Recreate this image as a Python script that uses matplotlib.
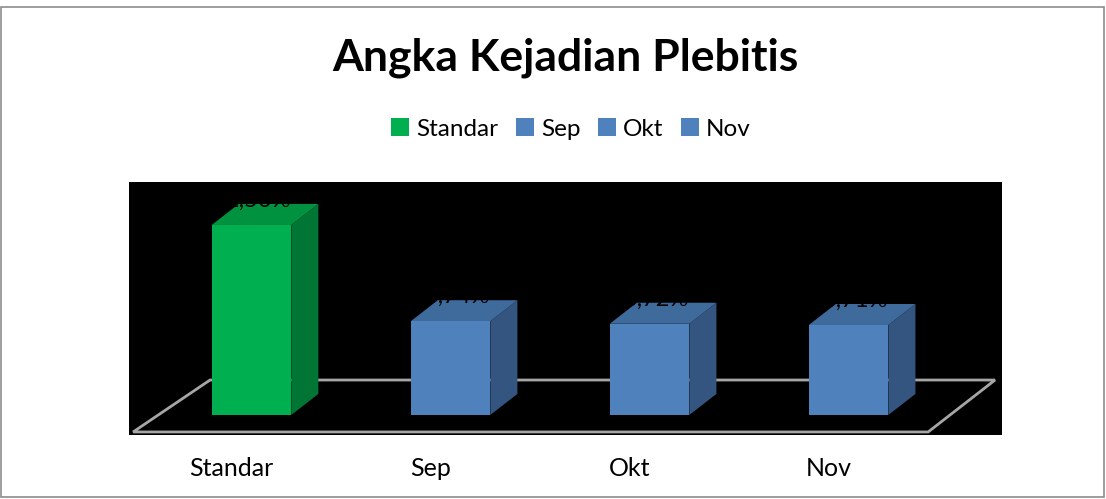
import numpy as np
import matplotlib
matplotlib.use("Agg")
import matplotlib.pyplot as plt
from matplotlib.patches import Polygon, Patch, Rectangle

categories = ["Standar", "Sep", "Okt", "Nov"]
values = [1.50, 0.74, 0.72, 0.71]
labels = ["1,50%", "0,74%", "0,72%", "0,71%"]

front_cols = ["#00B050", "#4F81BD", "#4F81BD", "#4F81BD"]
side_cols = ["#007534", "#34557F", "#34557F", "#34557F"]
top_cols = ["#00923F", "#3E6A9C", "#3E6A9C", "#3E6A9C"]

plt.rcParams['font.family'] = ['Lato', 'DejaVu Sans']

W, H = 1106, 499
fig = plt.figure(figsize=(W / 100, H / 100), dpi=100)
fig.patch.set_facecolor("white")
fig.patches.append(Rectangle((1 / W, 2 / H), 1 - 3 / W, 1 - 9 / H, transform=fig.transFigure,
                             fill=False, edgecolor="#8C8C8C", lw=1.2))

ax = fig.add_axes([129 / W, (H - 435) / H, (1002 - 129) / W, (435 - 182) / H])
ax.set_facecolor("black")
ax.set_xlim(-0.6156, 3.771)
ax.set_ylim(-0.158, 1.839)

width = 0.40
dx, dy = 0.136, 0.166
x = np.arange(len(categories))

# floor
floor = Polygon([(-0.595, -0.134), (3.40, -0.134), (3.736, 0.276), (-0.2085, 0.276)],
                closed=True, fill=False, edgecolor="#A6A6A6", lw=2, zorder=1)
ax.add_patch(floor)

for i, v in enumerate(values):
    x0 = x[i] - width / 2
    x1 = x[i] + width / 2
    ax.add_patch(Polygon([(x1, 0), (x1 + dx, dy), (x1 + dx, v + dy), (x1, v)],
                         closed=True, facecolor=side_cols[i], edgecolor="none", zorder=2))
    ax.add_patch(Polygon([(x0, v), (x1, v), (x1 + dx, v + dy), (x0 + dx, v + dy)],
                         closed=True, facecolor=top_cols[i], edgecolor="none", zorder=2))
    ax.text(x[i] + 0.03, v + dy + 0.03, labels[i], ha="center", va="center",
            fontsize=17, color="black", zorder=4)

ax.bar(x, values, width=width, color=front_cols, zorder=3)

ax.set_xticks(x - 0.1)
ax.set_xticklabels(categories, fontsize=18)
ax.tick_params(axis="x", length=0, pad=16)
ax.set_yticks([])
for s in ax.spines.values():
    s.set_visible(False)

fig.text(565 / W, 1 - 58 / H, "Angka Kejadian Plebitis", ha="center", va="center",
         fontsize=32, fontweight="bold")

handles = [Patch(facecolor=c) for c in front_cols]
fig.legend(handles, categories, loc="center", bbox_to_anchor=(571 / W, 1 - 129 / H),
           ncol=4, frameon=False, fontsize=17.5, handlelength=0.75, handleheight=0.75,
           handletextpad=0.3, columnspacing=0.7)

fig.savefig("out.png", dpi=100, facecolor="white")
